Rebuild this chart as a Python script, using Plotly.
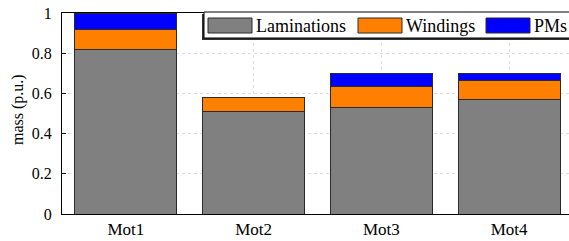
import plotly.graph_objects as go

motors = ["Mot1", "Mot2", "Mot3", "Mot4"]
laminations = [0.82, 0.51, 0.53, 0.57]
windings = [0.10, 0.07, 0.105, 0.095]
pms = [0.08, 0.0, 0.065, 0.035]
series_names = ["Laminations", "Windings", "PMs"]
colors = ["#808080", "#ff8000", "#0000ff"]
y_ticks = [0, 0.2, 0.4, 0.6, 0.8, 1]

# figure placed at page (0,0); slightly wider than the window (right frame off-screen)
W, H = 573, 241
L, T, B, R = 62, 13, 214, 573  # page coords of plot area
FONT = "Liberation Serif"

fig = go.Figure()
for name, vals, c in zip(series_names, [laminations, windings, pms], colors):
    fig.add_trace(go.Bar(
        x=motors, y=vals, name=name, marker=dict(color=c, line=dict(color="#2a2a2a", width=1)),
        width=0.8, showlegend=False))

def px(x):
    return (x - L) / (R - L)

def py(y):
    return (B - y) / (B - T)

shapes = []
annotations = []
# legend box with shadow
shapes.append(dict(type="rect", xref="paper", yref="paper", x0=px(202), x1=px(590), y0=py(40), y1=py(14),
                   fillcolor="#303030", line=dict(width=0), layer="above"))
shapes.append(dict(type="rect", xref="paper", yref="paper", x0=px(204), x1=px(590), y0=py(38), y1=py(12),
                   fillcolor="white", line=dict(color="black", width=1), layer="above"))
sw_x = [208, 358, 486]
for name, c, sx in zip(series_names, colors, sw_x):
    shapes.append(dict(type="rect", xref="paper", yref="paper", x0=px(sx), x1=px(sx + 44), y0=py(33), y1=py(18),
                       fillcolor=c, line=dict(color="#2a2a2a", width=1), layer="above"))
    annotations.append(dict(xref="paper", yref="paper", x=px(sx + 46), y=py(25.5), text=name, showarrow=False,
                            xanchor="left", yanchor="middle", font=dict(family=FONT, size=18, color="black")))
# y-axis title
annotations.append(dict(xref="paper", yref="paper", x=px(18), y=py(110), text="mass (p.u.)", showarrow=False,
                        textangle=-90, xanchor="center", yanchor="middle",
                        font=dict(family=FONT, size=16, color="black")))

fig.update_layout(
    barmode="stack",
    width=W, height=H,
    margin=dict(l=L, r=W - R, t=T, b=H - B, pad=0, autoexpand=False),
    paper_bgcolor="white", plot_bgcolor="white",
    font=dict(family=FONT, size=17, color="black"),
    shapes=shapes, annotations=annotations,
    showlegend=False,
    hovermode=False,
)
fig.update_xaxes(
    range=[-0.5, 3.5], showline=True, linecolor="black", linewidth=1, mirror=True,
    showgrid=True, gridcolor="#dcdcdc", griddash="dot", gridwidth=1, ticks="",
    tickfont=dict(family=FONT, size=17), automargin=False,
)
fig.update_yaxes(
    range=[0, 1], tickvals=y_ticks, ticktext=[f"{v:g}" for v in y_ticks],
    showline=True, linecolor="black", linewidth=1, mirror="allticks",
    ticks="inside", ticklen=4, tickcolor="black",
    showgrid=True, gridcolor="#dcdcdc", griddash="dot", gridwidth=1, zeroline=False,
    tickfont=dict(family=FONT, size=16), automargin=False, ticklabelstandoff=6,
    ticklabeloverflow="allow",
)

fig.write_html(
    "out.html",
    config={"displayModeBar": False, "staticPlot": True},
    post_script="document.body.style.margin='0';document.body.style.overflow='hidden';"
                "document.documentElement.style.overflow='hidden';",
)
